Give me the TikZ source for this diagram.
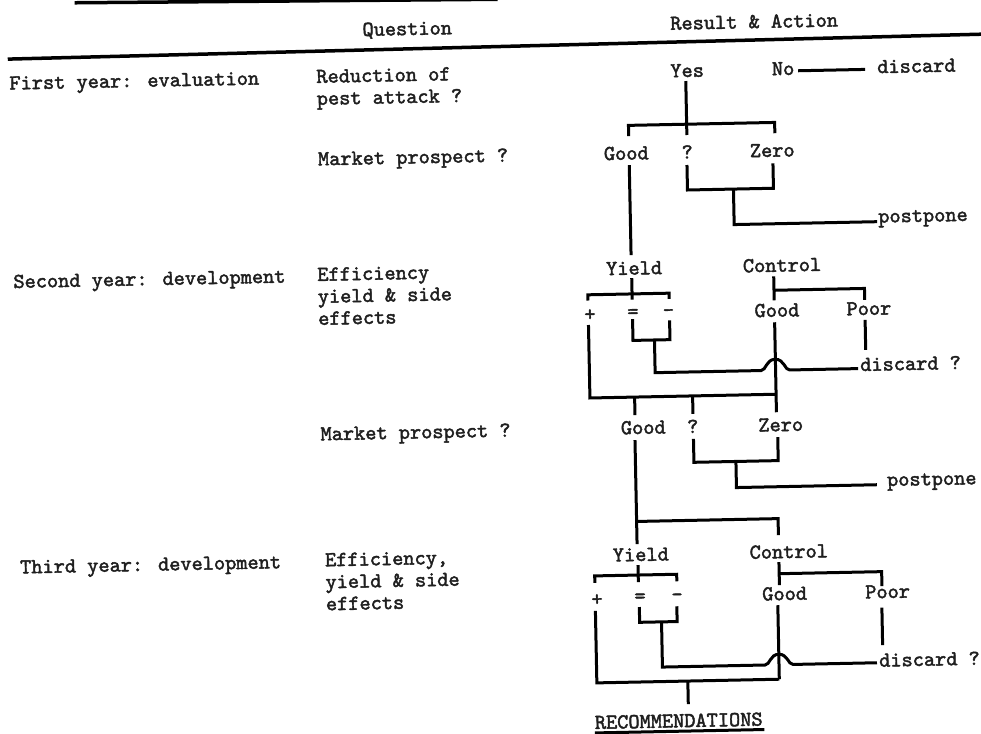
\documentclass[tikz,border=0pt]{standalone}
\usepackage{fontspec}
\newfontfamily\tw{lmmono10-regular.otf}[FakeBold=2]
\begin{document}
\begin{tikzpicture}[x=1pt,y=-1pt,
  ln/.style={line width=3pt},
  rulel/.style={line width=3.5pt},
  lbl/.style={inner sep=0pt, text height=13.5pt, text depth=4pt, font=\tw\fontsize{21.3}{24}\selectfont, text=black!88},
  lblb/.style={lbl, anchor=base},
  lblw/.style={lbl, anchor=base west},
  lblc/.style={lbl, text height=, text depth=, anchor=center}]
\fill[white] (0,0) rectangle (981,733);
\useasboundingbox (0,0) rectangle (981,733);
\begin{scope}[rotate around={1.15:(490,366)}, transform shape]
% header
\coordinate (tr1) at (82,-5.5); \coordinate (tr2) at (505,-0.5);
\draw[rulel] (tr1) -- (tr2);
\node[lblb] (question) at (414,33.5) {Question};
\node[lblb] (result) at (761,33.5) {Result \& Action};
\coordinate (hr1) at (14,49.5); \coordinate (hr2) at (1010,44);
\draw[rulel] (hr1) -- (hr2);

% row 1
\node[lblw] (year1) at (15,80) {First year: evaluation};
\node[lblw] (q1a) at (322,79.5) {Reduction of};
\node[lblw] (q1b) at (322,101.5) {pest attack ?};
\node[lblb] (yes) at (693,81) {Yes};
\node[lblb] (no) at (789,81) {No};
\node[lblw] (disc1) at (883,81) {discard};
\coordinate (nol) at (804,77); \coordinate (nor) at (871,77);
\draw[ln] (nol) -- (nor);
\coordinate (ya) at (691.5,85); \coordinate (yb) at (691.5,139);
\draw[ln] (ya) -- (yb);
\coordinate (b1l) at (633.3,139); \coordinate (b1lt) at (633.3,128.2);
\coordinate (b1rt) at (779.5,128.2); \coordinate (b1r) at (779.5,139);
\draw[ln] (b1l) -- (b1lt) -- (b1rt) -- (b1r);
\node[lblw] (mkt1) at (322,162) {Market prospect ?};
\node[lblb] (good1) at (630.5,162.5) {Good};
\node[lblb] (qm1) at (691.5,162.5) {?};
\node[lblb] (zero1) at (776.5,162.5) {Zero};
\coordinate (g1a) at (633.3,168); \coordinate (g1b) at (633.3,258);
\draw[ln] (g1a) -- (g1b);
\coordinate (k1a) at (691,169); \coordinate (k1b) at (691,194);
\coordinate (k1c) at (777,194); \coordinate (k1d) at (777,169);
\draw[ln] (k1a) -- (k1b) -- (k1c) -- (k1d);
\coordinate (m1a) at (737,194); \coordinate (m1b) at (737,229.5); \coordinate (m1c) at (880,229.5);
\draw[ln] (m1a) -- (m1b) -- (m1c);
\node[lblw] (post1) at (881,230.5) {postpone};

% row 2
\node[lblw] (year2) at (15,278.5) {Second year: development};
\node[lblw] (q2a) at (319,277.5) {Efficiency};
\node[lblw] (q2b) at (319,299.5) {yield \& side};
\node[lblw] (q2c) at (319,321.5) {effects};
\node[lblb] (yield2) at (636,277.5) {Yield};
\node[lblb] (ctrl2) at (784,277.5) {Control};
\coordinate (y2a) at (633.5,281); \coordinate (y2b) at (633.5,302.5);
\draw[ln] (y2a) -- (y2b);
\coordinate (b2l) at (589.3,302.5); \coordinate (b2lt) at (589.3,296.8);
\coordinate (b2rt) at (670.5,296.8); \coordinate (b2r) at (670.5,302.5);
\draw[ln] (b2l) -- (b2lt) -- (b2rt) -- (b2r);
\node[lblc] (plus2) at (591,317) {+};
\node[lblc] (eq2) at (634,316.5) {=};
\node[lblc] (minus2) at (669.5,316.5) {-};
\coordinate (p2a) at (589.3,327); \coordinate (p2b) at (589.3,400); \coordinate (p2c) at (775.5,400);
\draw[ln] (p2a) -- (p2b) -- (p2c);
\coordinate (e2a) at (633.5,322); \coordinate (e2b) at (633.5,343.3);
\coordinate (e2c) at (670.5,343.3); \coordinate (e2d) at (670.5,324);
\draw[ln] (e2a) -- (e2b) -- (e2c) -- (e2d);
\coordinate (d2a) at (655,343.3); \coordinate (d2b) at (655,376); \coordinate (d2c) at (761,376);
\coordinate (d2top) at (775.3,365); \coordinate (d2d) at (789.5,376); \coordinate (d2e) at (858,376);
\draw[ln] (d2a) -- (d2b) -- (d2c) .. controls (766,376) and (766,365) .. (d2top)
  .. controls (784.5,365) and (784.5,376) .. (d2d) -- (d2e);
\node[lblw] (disc2) at (860,378.5) {discard ?};
\coordinate (c2a) at (775.5,282); \coordinate (c2b) at (775.5,306);
\draw[ln] (c2a) -- (c2b);
\coordinate (c2m) at (775.5,296); \coordinate (c2r) at (866,296); \coordinate (c2rb) at (866,307.5);
\draw[ln] (c2m) -- (c2r) -- (c2rb);
\node[lblb] (good2c) at (778,322.5) {Good};
\node[lblb] (poor2) at (870,322.5) {Poor};
\coordinate (pr2a) at (866,327.5); \coordinate (pr2b) at (866,357.5);
\draw[ln] (pr2a) -- (pr2b);
\coordinate (gc2a) at (775.5,328); \coordinate (gc2b) at (775.5,418);
\draw[ln] (gc2a) -- (gc2b);
\coordinate (s2a) at (634,400); \coordinate (s2b) at (634,418);
\coordinate (s2c) at (692,400); \coordinate (s2d) at (692,418);
\draw[ln] (s2a) -- (s2b);
\draw[ln] (s2c) -- (s2d);
\node[lblw] (mkt2) at (319,437) {Market prospect ?};
\node[lblb] (good2) at (642,437) {Good};
\node[lblb] (qm2) at (691.5,437) {?};
\node[lblb] (zero2) at (779.5,437) {Zero};
\coordinate (k2a) at (692,443); \coordinate (k2b) at (692,466.4);
\coordinate (k2c) at (776.3,466.4); \coordinate (k2d) at (776.3,443);
\draw[ln] (k2a) -- (k2b) -- (k2c) -- (k2d);
\coordinate (m2a) at (734,466.4); \coordinate (m2b) at (734,492.5); \coordinate (m2c) at (874.5,492.5);
\draw[ln] (m2a) -- (m2b) -- (m2c);
\node[lblw] (post2) at (884.5,494) {postpone};
\coordinate (g2a) at (633.5,443); \coordinate (g2b) at (633.5,547);
\draw[ln] (g2a) -- (g2b);
\coordinate (g2m) at (633.5,524.4); \coordinate (g2r) at (775,524.4); \coordinate (g2rb) at (775,541);
\draw[ln] (g2m) -- (g2r) -- (g2rb);

% row 3
\node[lblw] (year3) at (16,564) {Third year: development};
\node[lblw] (q3a) at (321,563) {Efficiency,};
\node[lblw] (q3b) at (321,585) {yield \& side};
\node[lblw] (q3c) at (321,607) {effects};
\node[lblb] (yield3) at (637,564) {Yield};
\node[lblb] (ctrl3) at (785,564) {Control};
\coordinate (y3a) at (634,568); \coordinate (y3b) at (634,585);
\draw[ln] (y3a) -- (y3b);
\coordinate (b3l) at (590.5,585); \coordinate (b3lt) at (590.5,578);
\coordinate (b3rt) at (672.5,578); \coordinate (b3r) at (672.5,585);
\draw[ln] (b3l) -- (b3lt) -- (b3rt) -- (b3r);
\node[lblc] (plus3) at (592.3,602) {+};
\node[lblc] (eq3) at (635.4,601) {=};
\node[lblc] (minus3) at (672.4,601) {-};
\coordinate (p3a) at (590.5,613); \coordinate (p3b) at (590.5,685); \coordinate (p3c) at (773,685);
\draw[ln] (p3a) -- (p3b) -- (p3c);
\coordinate (e3a) at (634.5,610); \coordinate (e3b) at (634.5,625.3);
\coordinate (e3c) at (672,625.3); \coordinate (e3d) at (672,610);
\draw[ln] (e3a) -- (e3b) -- (e3c) -- (e3d);
\coordinate (d3a) at (656.4,625.3); \coordinate (d3b) at (656.4,670.5); \coordinate (d3c) at (759,670.5);
\coordinate (d3top) at (773,660); \coordinate (d3d) at (787,670.5); \coordinate (d3e) at (871,670.5);
\draw[ln] (d3a) -- (d3b) -- (d3c) .. controls (764,670.5) and (764,660) .. (d3top)
  .. controls (782,660) and (782,670.5) .. (d3d) -- (d3e);
\node[lblw] (disc3) at (873,674.5) {discard ?};
\coordinate (c3a) at (775,568); \coordinate (c3b) at (775,591);
\draw[ln] (c3a) -- (c3b);
\coordinate (c3m) at (775,579.5); \coordinate (c3r) at (877.5,579.5); \coordinate (c3rb) at (877.5,594);
\draw[ln] (c3m) -- (c3r) -- (c3rb);
\node[lblb] (good3c) at (780,606) {Good};
\node[lblb] (poor3) at (883,606) {Poor};
\coordinate (pr3a) at (877,615.5); \coordinate (pr3b) at (877,653);
\draw[ln] (pr3a) -- (pr3b);
\coordinate (gc3a) at (773,611); \coordinate (gc3b) at (773,685);
\draw[ln] (gc3a) -- (gc3b);
\coordinate (r3a) at (681.5,685); \coordinate (r3b) at (681.5,708);
\draw[ln] (r3a) -- (r3b);
\node[lblw, text depth=0.5pt] (rec) at (587.5,731) {RECOMMENDATIONS};
\coordinate (ul1) at (587.5,735); \coordinate (ul2) at (757,735);
\draw[line width=3pt] (ul1) -- (ul2);
\end{scope}
\end{tikzpicture}
\end{document}
